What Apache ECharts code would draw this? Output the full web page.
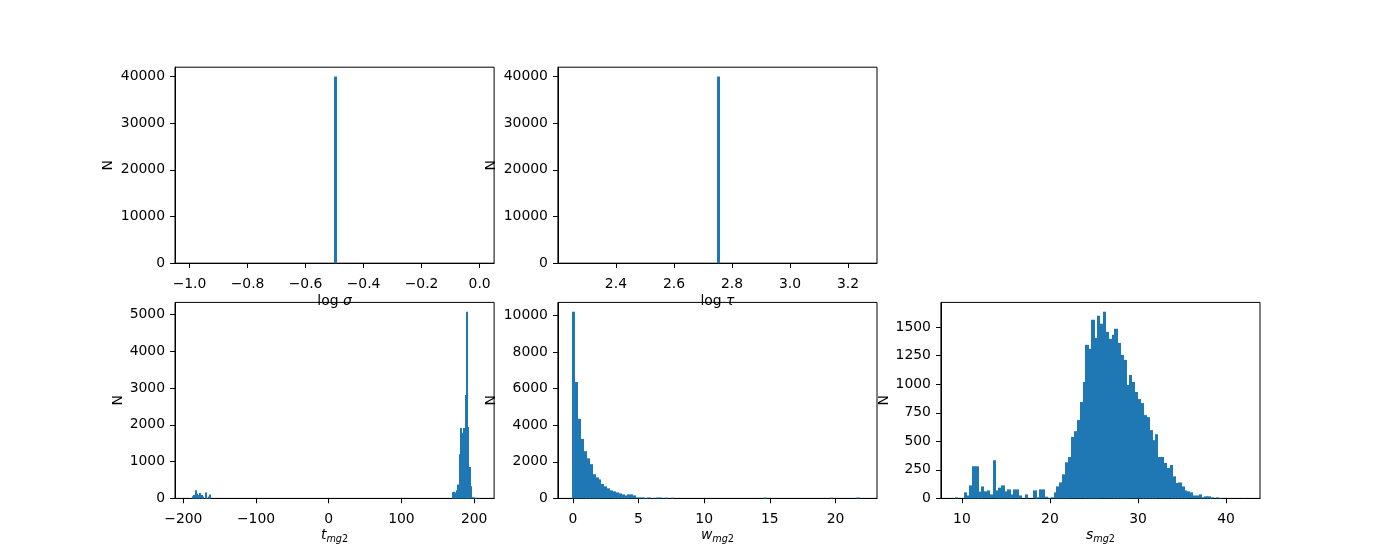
<!DOCTYPE html>
<html><head><meta charset="utf-8">
<script src="https://cdn.jsdelivr.net/npm/echarts@6/dist/echarts.min.js"></script>
<style>html,body{margin:0;padding:0;background:#fff}#c{width:1400px;height:560px}</style>
</head><body><div id="c"></div>
<script>
// ---------------- data ----------------
// log sigma: one bin, [edgeLeft, edgeRight]
const sigmaRange = [-1.0, 0.0];
const sigmaBinEdges = [-0.50, -0.49];
const sigmaCounts = [40000];
// log tau
const tauRange = [2.25, 3.25];
const tauBinEdges = [2.75, 2.76];
const tauCounts = [40000];
// t_mg2 : 200 bins over tRange, sparse [bin index, count]
const tRange = [-191.5, 207.5];
const tBinCount = 200;
const tBins = [[0,2],[2,60],[3,90],[4,218],[5,136],[6,90],[7,150],[8,90],[9,54],[11,163],[12,20],[13,54],[14,109],
  [181,170],[182,180],[183,160],[184,220],[185,380],[186,1200],[187,1910],[188,1780],[189,1910],[190,2810],
  [191,5070],[192,1940],[193,850],[194,330],[195,30],[196,25],[197,20],[199,2]];
// w_mg2 : 100 bins
const wRange = [-0.03, 22.05];
const wCounts = [10200,6360,4350,3250,2580,2190,1870,1320,1150,1040,
  790,660,550,440,385,330,275,220,165,220,
  220,165,55,55,50,20,50,10,10,50,
  45,10,40,5,40,0,0,0,0,0,
  0,0,0,0,0,0,0,0,0,0,
  0,0,0,0,0,0,0,0,0,0,
  0,0,0,0,0,0,40,0,0,0,
  0,0,0,0,0,0,0,0,0,0,
  0,0,0,0,0,0,0,0,0,40,
  0,0,0,0,0,0,0,0,45,2];
// s_mg2 : 100 bins
const sRange = [9.26, 42.21];
const sCounts = [9,0,0,53,26,114,281,281,60,105,
  62,70,35,334,70,94,114,62,79,35,
  79,79,26,0,35,0,0,70,9,79,
  79,15,5,9,53,105,140,211,316,363,
  539,589,686,844,1020,1345,1310,1565,1406,1600,
  1530,1635,1459,1398,1433,1486,1362,1257,1213,993,
  1081,1020,932,870,835,730,712,598,510,562,
  363,363,311,267,293,193,135,140,105,70,
  62,53,26,26,35,9,18,18,9,0,
  9,3,0,0,0,0,0,0,0,1];
// tick labels
const sigmaTicks = [-1.0,-0.8,-0.6,-0.4,-0.2,0.0];
const tauTicks = [2.4,2.6,2.8,3.0,3.2];
const tTicks = [-200,-100,0,100,200];
const wTicks = [0,5,10,15,20];
const sTicks = [10,20,30,40];
const topNTicks = [0,10000,20000,30000,40000];
const tNTicks = [0,1000,2000,3000,4000,5000];
const wNTicks = [0,2000,4000,6000,8000,10000];
const sNTicks = [0,250,500,750,1000,1250,1500];

// ---------------- helpers ----------------
function binsFromCounts(range, counts) {
  const w = (range[1] - range[0]) / counts.length;
  return counts.map((c, i) => [range[0] + i * w, range[0] + (i + 1) * w, c]);
}
function binsFromSparse(range, n, pairs) {
  const w = (range[1] - range[0]) / n;
  return pairs.map(p => [range[0] + p[0] * w, range[0] + (p[0] + 1) * w, p[1]]);
}
function binsFromEdges(edges, counts) {
  return counts.map((c, i) => [edges[i], edges[i + 1], c]);
}
function padRange(r) { const s = r[1] - r[0]; return [r[0] - 0.05 * s, r[1] + 0.05 * s]; }
function maxCount(bins) { return Math.max.apply(null, bins.map(b => b[2])); }
function fmt(dec) {
  return v => { let s = Number(v).toFixed(dec); if (s.charAt(0) === '-') s = '\u2212' + s.slice(1); return s; };
}

const FONT = 'DejaVu Sans';
const FS = 13.9;
const COLOR = '#1f77b4';
const rich = {
  r: { fontFamily: FONT, fontSize: FS, color: '#000' },
  i: { fontFamily: FONT, fontSize: FS, fontStyle: 'italic', color: '#000' },
  si: { fontFamily: FONT, fontSize: 9.7, fontStyle: 'italic', color: '#000', padding: [9, 0, 0, 0] },
  s: { fontFamily: FONT, fontSize: 9.7, color: '#000', padding: [9, 0, 0, 0] }
};

const panels = [
  { grid: { left: 175, top: 67.2 }, bins: binsFromEdges(sigmaBinEdges, sigmaCounts), xr: padRange(sigmaRange),
    xt: sigmaTicks, xdec: 1, yt: topNTicks, name: '{r|log}{r| }{i|σ}', nameGap: 31, yGap: 60 },
  { grid: { left: 557.9, top: 67.2 }, bins: binsFromEdges(tauBinEdges, tauCounts), xr: padRange(tauRange),
    xt: tauTicks, xdec: 1, yt: topNTicks, name: '{r|log}{r| }{i|τ}', nameGap: 31, yGap: 60 },
  { grid: { left: 175, top: 302.4 }, bins: binsFromSparse(tRange, tBinCount, tBins), xr: padRange(tRange),
    xt: tTicks, xdec: 0, yt: tNTicks, name: '{i|t}{si|mg}{s|2}', nameGap: 27, yGap: 49 },
  { grid: { left: 557.9, top: 302.4 }, bins: binsFromCounts(wRange, wCounts), xr: padRange(wRange),
    xt: wTicks, xdec: 0, yt: wNTicks, name: '{i|w}{si|mg}{s|2}', nameGap: 27, yGap: 60 },
  { grid: { left: 940.9, top: 302.4 }, bins: binsFromCounts(sRange, sCounts), xr: padRange(sRange),
    xt: sTicks, xdec: 0, yt: sNTicks, name: '{i|s}{si|mg}{s|2}', nameGap: 27, yGap: 50 }
];

function renderItem(params, api) {
  const c = api.value(2);
  if (!c) return null;
  const p0 = api.coord([api.value(0), c]);
  const p1 = api.coord([api.value(1), 0]);
  // snap bin edges to whole pixels so adjacent bins join without seams
  let x0 = Math.floor(p0[0]), x1 = Math.round(p1[0]);
  if (x1 - x0 < 1) x1 = x0 + 1;
  return { type: 'rect', shape: { x: x0, y: p0[1], width: x1 - x0, height: p1[1] - p0[1] },
    style: { fill: COLOR } };
}

const option = { animation: false, backgroundColor: '#fff', grid: [], xAxis: [], yAxis: [], series: [] };
panels.forEach((p, k) => {
  option.grid.push({ left: p.grid.left, top: p.grid.top, width: 319.1, height: 196, show: true,
    borderColor: '#000', borderWidth: 1, backgroundColor: 'transparent', containLabel: false });
  option.xAxis.push({ type: 'value', gridIndex: k, min: p.xr[0], max: p.xr[1],
    name: p.name, nameLocation: 'middle', nameGap: p.nameGap, nameTextStyle: { rich: rich },
    axisLine: { show: true, onZero: false, lineStyle: { color: '#000', width: 1 } },
    axisTick: { show: true, length: 4.86, customValues: p.xt, lineStyle: { color: '#000', width: 1 } },
    axisLabel: { show: true, customValues: p.xt, margin: 14, formatter: fmt(p.xdec),
      fontFamily: FONT, fontSize: FS, color: '#000' },
    splitLine: { show: false } });
  const ymax = maxCount(p.bins) * 1.05;
  option.yAxis.push({ type: 'value', gridIndex: k, min: 0, max: ymax,
    name: 'N', nameLocation: 'middle', nameGap: p.yGap,
    nameTextStyle: { fontFamily: FONT, fontSize: FS, color: '#000' },
    axisLine: { show: true, onZero: false, lineStyle: { color: '#000', width: 1 } },
    axisTick: { show: true, length: 4.86, customValues: p.yt, lineStyle: { color: '#000', width: 1 } },
    axisLabel: { show: true, customValues: p.yt, margin: 10, formatter: fmt(0),
      fontFamily: FONT, fontSize: FS, color: '#000', padding: [4, 0, 0, 0] },
    splitLine: { show: false } });
  option.series.push({ type: 'custom', xAxisIndex: k, yAxisIndex: k, renderItem: renderItem,
    encode: { x: [0, 1], y: 2 }, data: p.bins, silent: true });
});

const chart = echarts.init(document.getElementById('c'), null, { renderer: 'canvas' });
chart.setOption(option);
</script>
</body></html>
